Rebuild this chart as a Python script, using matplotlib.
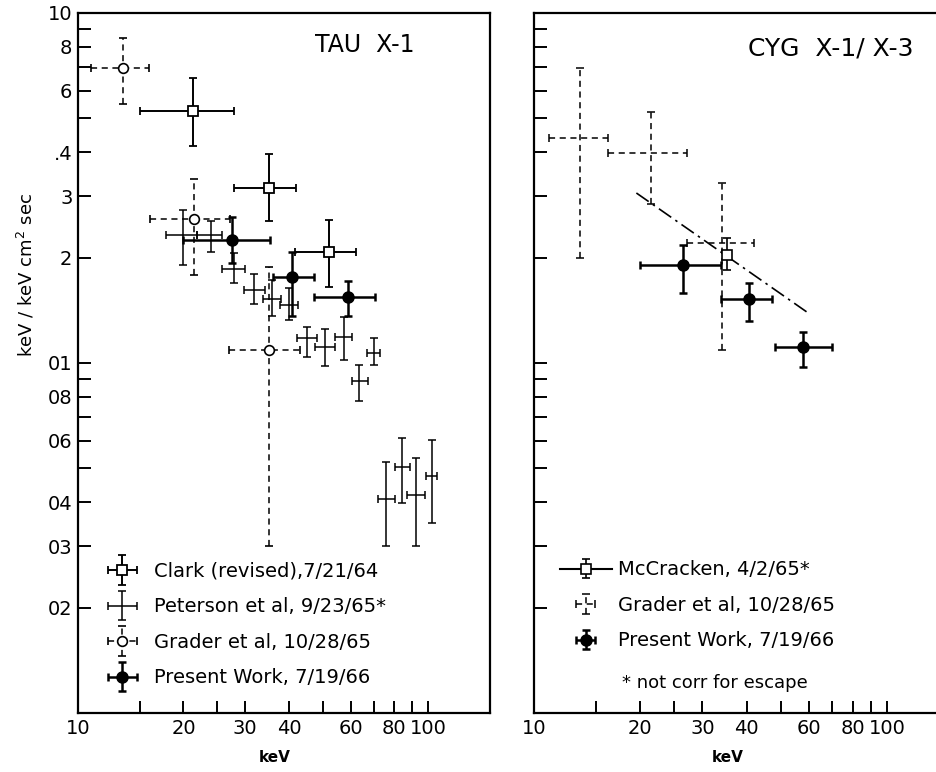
"""Two-panel hard X-ray spectra: TAU X-1 and CYG X-1/X-3 (log-log, error bars)."""

import matplotlib

matplotlib.use("Agg")
import matplotlib.pyplot as plt
import numpy as np
from matplotlib.container import ErrorbarContainer
from matplotlib.legend_handler import HandlerErrorbar
from matplotlib.ticker import NullLocator

# ---- TAU X-1 ----------------------------------------------------------------
clark_x = [21.3, 35.0, 52.1]
clark_y = [0.525, 0.317, 0.207]
clark_xlo = [15.0, 27.9, 41.7]
clark_xhi = [27.9, 41.9, 62.0]
clark_ylo = [0.418, 0.255, 0.165]
clark_yhi = [0.651, 0.396, 0.256]

pet_x = [19.9, 23.9, 27.8, 31.9, 35.8, 40.1, 45.0, 50.8, 57.4, 63.6, 69.9, 75.9, 84.1, 92.2, 102.4]
pet_y = [0.232, 0.232, 0.186, 0.162, 0.152, 0.146, 0.118, 0.111, 0.119, 0.089, 0.107, 0.041, 0.0506, 0.042, 0.0476]
pet_xlo = [17.8, 21.8, 25.8, 29.8, 33.8, 37.7, 42.2, 47.6, 54.2, 60.6, 66.8, 72.0, 80.1, 87.2, 98.7]
pet_xhi = [21.8, 25.7, 30.0, 34.2, 38.0, 42.4, 48.0, 54.2, 60.6, 67.4, 72.6, 80.4, 88.4, 97.6, 106.0]
pet_ylo = [0.191, 0.208, 0.169, 0.147, 0.136, 0.133, 0.104, 0.098, 0.102, 0.078, 0.099, 0.030, 0.0397, 0.030, 0.0348]
pet_yhi = [0.274, 0.255, 0.206, 0.180, 0.173, 0.164, 0.127, 0.125, 0.135, 0.099, 0.118, 0.052, 0.061, 0.0537, 0.0604]

grt_x = [13.4, 21.5, 35.0]
grt_y = [0.698, 0.258, 0.109]
grt_xlo = [10.9, 16.1, 27.0]
grt_xhi = [15.9, 27.2, 43.1]
grt_ylo = [0.549, 0.178, 0.030]
grt_yhi = [0.847, 0.335, 0.188]

prt_x = [27.5, 40.9, 59.1]
prt_y = [0.224, 0.176, 0.154]
prt_xlo = [20.0, 36.1, 47.2]
prt_xhi = [35.4, 47.2, 70.6]
prt_ylo = [0.193, 0.136, 0.136]
prt_yhi = [0.262, 0.208, 0.172]

# ---- CYG X-1 / X-3 ----------------------------------------------------------
mcc_x = [35.2]
mcc_y = [0.204]
mcc_ylo = [0.184]
mcc_yhi = [0.227]

grc_x = [13.5, 21.5, 34.1]
grc_y = [0.440, 0.399, 0.220]
grc_xlo = [11.05, 16.2, 27.2]
grc_xhi = [16.2, 27.1, 42.0]
grc_ylo = [0.200, 0.284, 0.109]
grc_yhi = [0.695, 0.520, 0.326]

prc_x = [26.5, 40.7, 57.7]
prc_y = [0.191, 0.152, 0.111]
prc_xlo = [20.0, 33.9, 48.2]
prc_xhi = [33.8, 47.1, 69.8]
prc_ylo = [0.158, 0.132, 0.0977]
prc_yhi = [0.217, 0.169, 0.123]

fit_x = [19.5, 59.8]
fit_y = [0.306, 0.139]

# ---- axes ticks --------------------------------------------------------------
XTICKS = [10, 15, 20, 25, 30, 40, 50, 60, 70, 80, 90, 100]
XLABELS = ["10", "", "20", "", "30", "40", "", "60", "", "80", "", "100"]
YTICKS = [1.0, 0.9, 0.8, 0.7, 0.6, 0.5, 0.4, 0.3, 0.2, 0.1,
          0.09, 0.08, 0.07, 0.06, 0.05, 0.04, 0.03, 0.02]
YLABELS = ["10", "", "8", "", "6", "", ".4", "3", "2", "01",
           "", "08", "", "06", "", "04", "03", "02"]

FS = 14
DASH = (0, (4, 3))
W, H = 937, 772


def _err(c, lo, hi):
    if lo is None:
        return None
    c = np.asarray(c, float)
    return [c - np.asarray(lo, float), np.asarray(hi, float) - c]


def draw(ax, x, y, xlo=None, xhi=None, ylo=None, yhi=None, fmt="none",
         lw=1.1, dashed=False, label=None, **kw):
    eb = ax.errorbar(x, y, xerr=_err(x, xlo, xhi), yerr=_err(y, ylo, yhi),
                     fmt=fmt, color="black", ecolor="black", elinewidth=lw,
                     capsize=3, capthick=lw, label=label, **kw)
    if dashed:
        for c in eb[2]:
            c.set_linestyle(DASH)
    return eb


def style(ax, xmax, ylabels):
    ax.set_xscale("log")
    ax.set_yscale("log")
    ax.set_xlim(10, xmax)
    ax.set_ylim(0.01, 1.0)
    ax.set_xticks(XTICKS)
    ax.set_xticklabels(XLABELS)
    ax.set_yticks(YTICKS)
    ax.set_yticklabels(ylabels)
    ax.xaxis.set_minor_locator(NullLocator())
    ax.yaxis.set_minor_locator(NullLocator())
    ax.tick_params(direction="in", length=9, width=1.4, labelsize=FS,
                   top=False, right=False)
    ax.tick_params(axis="x", pad=4)
    ax.tick_params(axis="y", pad=4)
    for sp in ax.spines.values():
        sp.set_linewidth(1.6)


def main():
    fig = plt.figure(figsize=(W / 100, H / 100), dpi=100)
    axl = fig.add_axes([78 / W, 59 / H, 412 / W, 700 / H])
    axr = fig.add_axes([534 / W, 59 / H, 405 / W, 700 / H])

    # left panel
    e_pet = draw(axl, pet_x, pet_y, pet_xlo, pet_xhi, pet_ylo, pet_yhi, lw=1.1,
                 label="Peterson et al, 9/23/65*")
    e_grt = draw(axl, grt_x, grt_y, grt_xlo, grt_xhi, grt_ylo, grt_yhi, fmt="o",
                 lw=1.1, dashed=True, ms=7, mfc="white", mec="black", mew=1.2,
                 label="Grader et al, 10/28/65")
    e_clk = draw(axl, clark_x, clark_y, clark_xlo, clark_xhi, clark_ylo, clark_yhi,
                 fmt="s", lw=1.4, ms=7, mfc="white", mec="black", mew=1.3,
                 label="Clark (revised),7/21/64")
    e_prt = draw(axl, prt_x, prt_y, prt_xlo, prt_xhi, prt_ylo, prt_yhi, fmt="o",
                 lw=1.8, ms=8, mfc="black", mec="black",
                 label="Present Work, 7/19/66")
    style(axl, 150, YLABELS)
    axl.text(315 / W, 1 - 45 / H, "TAU  X-1", transform=fig.transFigure,
             fontsize=17, ha="left", va="center")
    hmap = {ErrorbarContainer: HandlerErrorbar(xerr_size=0.75)}
    axl.legend(handles=[e_clk, e_pet, e_grt, e_prt], loc="upper left",
               bbox_to_anchor=(0.07, 0.216), frameon=False, fontsize=FS,
               handlelength=1.6, handletextpad=0.8, labelspacing=0.85,
               borderpad=0, borderaxespad=0, handler_map=hmap)

    # right panel
    e_grc = draw(axr, grc_x, grc_y, grc_xlo, grc_xhi, grc_ylo, grc_yhi, lw=1.1,
                 dashed=True, label="Grader et al, 10/28/65")
    e_mcc = draw(axr, mcc_x, mcc_y, ylo=mcc_ylo, yhi=mcc_yhi, fmt="s-", lw=1.2,
                 ms=7, mfc="white", mec="black", mew=1.2,
                 label="McCracken, 4/2/65*")
    e_prc = draw(axr, prc_x, prc_y, prc_xlo, prc_xhi, prc_ylo, prc_yhi, fmt="o",
                 lw=1.8, ms=8, mfc="black", mec="black",
                 label="Present Work, 7/19/66")
    axr.plot(fit_x, fit_y, color="black", lw=1.2, ls=(0, (9, 3, 1.5, 3)))
    style(axr, 10 * 10 ** (405 / 353), [""] * len(YTICKS))
    axr.spines["right"].set_visible(False)
    axr.text(748 / W, 1 - 48 / H, "CYG  X-1/ X-3", transform=fig.transFigure,
             fontsize=18, ha="left", va="center")
    hmap_r = {ErrorbarContainer: HandlerErrorbar(xerr_size=0.5)}
    axr.legend(handles=[e_mcc, e_grc, e_prc], loc="upper left",
               bbox_to_anchor=(0.063, 0.218), frameon=False, fontsize=FS,
               handlelength=2.7, handletextpad=0.3, labelspacing=0.85,
               borderpad=0, borderaxespad=0, handler_map=hmap_r)
    axr.text(622 / W, 1 - 683 / H, "* not corr for escape",
             transform=fig.transFigure, fontsize=FS - 1, ha="left", va="center")

    # axis labels
    fig.text(275 / W, 1 - 757 / H, "keV", fontsize=11, fontweight="bold",
             ha="center", va="center")
    fig.text(728 / W, 1 - 757 / H, "keV", fontsize=11, fontweight="bold",
             ha="center", va="center")
    fig.text(26 / W, 1 - 275 / H, "keV / keV cm$^2$ sec", fontsize=13,
             rotation=90, ha="center", va="center")

    fig.savefig("out.png", dpi=100, facecolor="white")
    plt.close(fig)


if __name__ == "__main__":
    main()
